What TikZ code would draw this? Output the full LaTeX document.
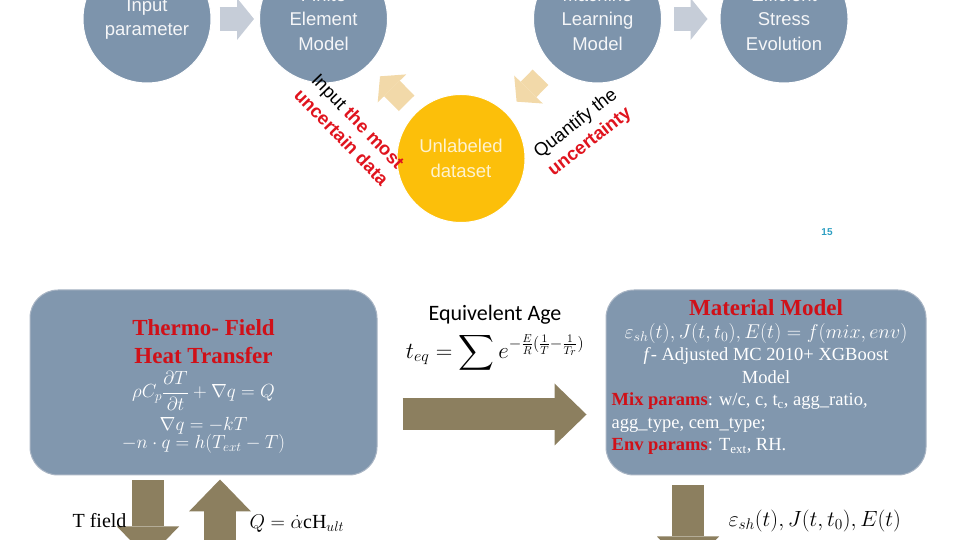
\RequirePackage{fix-cm}
\documentclass[tikz,border=0pt]{standalone}
\usepackage{amsmath}
\usepackage{fontspec}
\setmainfont{Liberation Serif}
\newfontfamily\arialfont{Liberation Sans}
\newfontfamily\calibrifont{Carlito}
\usetikzlibrary{positioning,arrows.meta,calc}
\definecolor{stageblue}{HTML}{7D94AC}
\definecolor{panelblue}{HTML}{8197AE}
\definecolor{panelrim}{HTML}{A9B5C4}
\definecolor{palegrey}{HTML}{C6CDD8}
\definecolor{paletan}{HTML}{F2D9A9}
\definecolor{sunyellow}{HTML}{FCBF0A}
\definecolor{arrowolive}{HTML}{8C7F5F}
\definecolor{titlered}{HTML}{D01018}
\definecolor{notered}{HTML}{E0141E}
\definecolor{pagenum}{HTML}{2E9FC2}
\newcommand{\paneltitle}[1]{{\color{titlered}\bfseries\fontsize{23}{28}\selectfont #1}}
\tikzset{
  stage/.style={circle, fill=stageblue, draw=white, line width=1pt,
                minimum size=128pt, inner sep=0pt, align=center,
                text=white!92!stageblue, font=\arialfont\fontsize{18.5}{24.5}\selectfont},
  panel/.style={draw=panelrim, fill=panelblue, line width=1pt, rounded corners=28pt},
  note/.style={align=center, inner sep=0pt, font=\arialfont\fontsize{18.5}{23}\selectfont},
  greyflow/.style={draw=palegrey, line width=24pt,
                   -{Triangle[length=17pt, width=42pt, line width=0pt]}},
  tanflow/.style={draw=paletan, line width=22pt,
                  -{Triangle[length=17pt, width=40pt, line width=0pt]}},
  oliveflow/.style={draw=arrowolive, line width=32pt,
                    -{Triangle[length=32pt, width=62pt, line width=0pt]}},
}
\begin{document}
\begin{tikzpicture}[x=1pt, y=1pt]
  \useasboundingbox (0,0) rectangle (960,540);
  % top: active learning loop
  \node[stage] (inp) at (147,521) {Input\\parameter};
  \node[stage] (fem) at (323.5,521) {Finite\\Element\\Model};
  \node[stage] (mlm) at (597.5,521) {Machine\\Learning\\Model};
  \node[stage] (ese) at (784,521) {Efficient\\Stress\\Evolution};
  \node[stage, fill=sunyellow, text=white!80!sunyellow] (unl) at (461,381.5) {Unlabeled\\dataset};
  \draw[greyflow, shorten <=8pt, shorten >=5pt] (inp) -- (fem);
  \draw[greyflow, shorten <=12pt, shorten >=12pt] (mlm) -- (ese);
  \draw[tanflow, shorten <=13pt, shorten >=16pt] (unl) -- (fem);
  \draw[tanflow, shorten <=17pt, shorten >=15pt] (mlm) -- (unl);
  \node[note, rotate=-46] (inote) at (350,411)
    {Input \textcolor{notered}{\bfseries the most}\\\textcolor{notered}{\bfseries uncertain data}};
  \node[note, rotate=38] (qnote) at (583,407)
    {Quantify the\\\textcolor{notered}{\bfseries uncertainty}};
  \node[text=pagenum, font=\arialfont\bfseries\fontsize{10}{12}\selectfont] (pgno) at (827,308) {15};

  % bottom: thermo field -> material model
  \node[panel, minimum width=347pt, minimum height=185pt] (thermo) at (203.5,157.5) {};
  \node[align=center, text=white, inner sep=0pt, font=\fontsize{19}{20}\selectfont]
    (thermotxt) at ([yshift=-4pt]thermo.center)
    {\paneltitle{Thermo- Field}\\[8pt]\paneltitle{Heat Transfer}\\[7pt]
     $\rho C_p\dfrac{\partial T}{\partial t} + \nabla q = Q$\\[6pt]
     $\nabla q = -kT$\\[-2pt]
     $-n\cdot q = h(T_{ext} - T)$};
  \node[panel, minimum width=320pt, minimum height=185pt] (matl) at (766,157.5) {};
  \node[font=\fontsize{18.5}{22.5}\selectfont, text=white, align=center, inner sep=0pt,
        below=10pt of matl.north] (matltop)
    {\paneltitle{Material Model}\\
     {\fontsize{20}{22.5}\selectfont$\varepsilon_{sh}(t), J(t,t_0), E(t) = f(mix, env)$}\\
     \textit{f}- Adjusted MC 2010+ XGBoost\\
     Model};
  \node[font=\fontsize{18.5}{22.5}\selectfont, text=white, align=left, inner sep=0pt,
        anchor=north west] (matlpar) at ([xshift=6pt,yshift=-103pt]matl.north west)
    {\textcolor{titlered}{\bfseries Mix params}: w/c, c, t\textsubscript{c}, agg\_ratio,\\
     agg\_type, cem\_type;\\
     \textcolor{titlered}{\bfseries Env params}: T\textsubscript{ext}, RH.};
  \node[font=\calibrifont\fontsize{22}{26}\selectfont] (agelbl) at (495,225) {Equivelent Age};
  \node[font=\fontsize{23}{26}\selectfont, below=1pt of agelbl] (ageeq)
    {$t_{eq} = \displaystyle\sum e^{-\frac{E}{R}(\frac{1}{T}-\frac{1}{T_r})}$};
  \draw[oliveflow] ([xshift=25pt,yshift=-32pt]thermo.east) -- ([xshift=-19pt,yshift=-32pt]matl.west);

  \coordinate (tfoot) at ([xshift=-55.5pt,yshift=-83pt]thermo.south);
  \coordinate (qfoot) at ([xshift=16.5pt,yshift=-85pt]thermo.south);
  \coordinate (efoot) at ([xshift=-78pt,yshift=-93pt]matl.south);
  \draw[oliveflow] ([xshift=-55.5pt,yshift=-5pt]thermo.south) -- (tfoot);
  \draw[oliveflow] (qfoot) -- ([xshift=16.5pt,yshift=-4pt]thermo.south);
  \draw[oliveflow] ([xshift=-78pt,yshift=-10pt]matl.south) -- (efoot);
  \node[font=\fontsize{20}{24}\selectfont, anchor=east] (tlbl) at (130,19) {T field};
  \node[font=\fontsize{20}{24}\selectfont, anchor=west] (qlbl) at (246,16) {$Q = \dot{\alpha}\mathrm{cH}_{ult}$};
  \node[font=\fontsize{22}{24}\selectfont, anchor=west] (elbl) at (725,19) {$\varepsilon_{sh}(t), J(t,t_0), E(t)$};
\end{tikzpicture}
\end{document}
